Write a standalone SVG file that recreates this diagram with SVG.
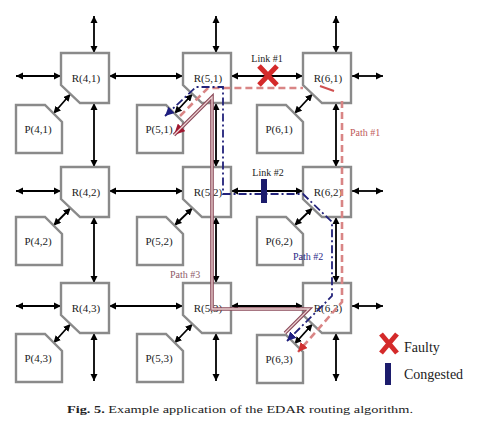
<svg xmlns="http://www.w3.org/2000/svg" width="500" height="439" viewBox="0 0 500 439">
<style>
.box{fill:#fff;stroke:#8a8a8a;stroke-width:2.4;stroke-linejoin:miter}
.lbl{font-family:"Liberation Serif","Times New Roman",serif;font-size:11px;fill:#222;text-anchor:middle}
.lnk line{stroke:#000;stroke-width:1.8;marker-start:url(#ah);marker-end:url(#ah)}
.p1{stroke:#d98585;stroke-width:2.6;fill:none;stroke-dasharray:7,4}
.p2{stroke:#22227a;stroke-width:1.8;fill:none;stroke-dasharray:8,3,2,3}
.p3o{stroke:#8b4a5a;stroke-width:3.6;fill:none}
.p3i{stroke:#ecd2d2;stroke-width:1.3;fill:none}
.cap{font-family:"Liberation Serif","Times New Roman",serif;font-size:10.5px;fill:#222}
</style>
<defs>
<marker id="ah" viewBox="0 0 10 10" refX="10" refY="5" markerWidth="4" markerHeight="4" orient="auto-start-reverse" markerUnits="strokeWidth"><path d="M0,0 L10,5 L0,10 Z" fill="#000"/></marker>
<marker id="ahb" viewBox="0 0 10 10" refX="10" refY="5" markerWidth="5" markerHeight="5" orient="auto-start-reverse" markerUnits="strokeWidth"><path d="M0,0 L10,5 L0,10 Z" fill="#1f1f80"/></marker>
<marker id="ahr" viewBox="0 0 10 10" refX="10" refY="5" markerWidth="3.6" markerHeight="3.6" orient="auto-start-reverse" markerUnits="strokeWidth"><path d="M0,0 L10,5 L0,10 Z" fill="#d03030"/></marker>
<marker id="ahd" viewBox="0 0 10 10" refX="10" refY="5" markerWidth="3" markerHeight="3" orient="auto-start-reverse" markerUnits="strokeWidth"><path d="M0,0 L10,5 L0,10 Z" fill="#a01830"/></marker>
<path id="rshape" d="M0,0 H48 V50 H19 L0,32 Z"/>
<path id="pshape" d="M0,0 H29 L46,17 V48 H0 Z"/>
</defs>
<rect width="500" height="439" fill="#fff"/>

<g id="connectors" class="lnk">
<line x1="94" y1="16" x2="94" y2="53"/><line x1="216" y1="16" x2="216" y2="53"/><line x1="336" y1="16" x2="336" y2="53"/>
<line x1="94" y1="103" x2="94" y2="167"/><line x1="216" y1="103" x2="216" y2="167"/><line x1="336" y1="103" x2="336" y2="167"/>
<line x1="94" y1="217" x2="94" y2="283"/><line x1="216" y1="217" x2="216" y2="283"/><line x1="336" y1="217" x2="336" y2="283"/>
<line x1="94" y1="333" x2="94" y2="381"/><line x1="216" y1="333" x2="216" y2="381"/><line x1="336" y1="333" x2="336" y2="381"/>
<line x1="16" y1="76" x2="61" y2="76"/><line x1="109" y1="76" x2="183" y2="76"/><line x1="231" y1="76" x2="303" y2="76"/><line x1="352" y1="76" x2="383" y2="76"/>
<line x1="16" y1="191" x2="61" y2="191"/><line x1="109" y1="191" x2="183" y2="191"/><line x1="231" y1="191" x2="303" y2="191"/><line x1="352" y1="191" x2="383" y2="191"/>
<line x1="16" y1="306" x2="61" y2="306"/><line x1="109" y1="306" x2="183" y2="306"/><line x1="231" y1="306" x2="303" y2="306"/><line x1="352" y1="306" x2="383" y2="306"/>
<line x1="70.5" y1="94" x2="53.5" y2="113.5"/><line x1="192.5" y1="94" x2="174.5" y2="113.5"/><line x1="312.5" y1="94" x2="294.5" y2="113.5"/>
<line x1="70.5" y1="208" x2="53.5" y2="225.5"/><line x1="192.5" y1="208" x2="174.5" y2="225.5"/><line x1="312.5" y1="208" x2="294.5" y2="225.5"/>
<line x1="70.5" y1="324" x2="53.5" y2="343"/><line x1="192.5" y1="324" x2="174.5" y2="343"/><line x1="312.5" y1="324" x2="294.5" y2="344"/>
</g>

<g id="R41"><use href="#rshape" x="61" y="53" class="box"/><text class="lbl" x="86" y="82">R(4,1)</text></g>
<g id="R51"><use href="#rshape" x="183" y="53" class="box"/><text class="lbl" x="208" y="82">R(5,1)</text></g>
<g id="R61"><use href="#rshape" x="303" y="53" class="box"/><text class="lbl" x="328" y="82">R(6,1)</text></g>
<g id="R42"><use href="#rshape" x="61" y="167" class="box"/><text class="lbl" x="86" y="196">R(4,2)</text></g>
<g id="R52"><use href="#rshape" x="183" y="167" class="box"/><text class="lbl" x="208" y="196">R(5,2)</text></g>
<g id="R62"><use href="#rshape" x="303" y="167" class="box"/><text class="lbl" x="328" y="196">R(6,2)</text></g>
<g id="R43"><use href="#rshape" x="61" y="283" class="box"/><text class="lbl" x="86" y="312">R(4,3)</text></g>
<g id="R53"><use href="#rshape" x="183" y="283" class="box"/><text class="lbl" x="208" y="312">R(5,3)</text></g>
<g id="R63"><use href="#rshape" x="303" y="283" class="box"/><text class="lbl" x="328" y="312">R(6,3)</text></g>

<g id="P41"><use href="#pshape" x="16" y="105" class="box"/><text class="lbl" x="38" y="133">P(4,1)</text></g>
<g id="P51"><use href="#pshape" x="137" y="105" class="box"/><text class="lbl" x="159" y="133">P(5,1)</text></g>
<g id="P61"><use href="#pshape" x="257" y="105" class="box"/><text class="lbl" x="279" y="133">P(6,1)</text></g>
<g id="P42"><use href="#pshape" x="16" y="217" class="box"/><text class="lbl" x="38" y="245">P(4,2)</text></g>
<g id="P52"><use href="#pshape" x="137" y="217" class="box"/><text class="lbl" x="159" y="245">P(5,2)</text></g>
<g id="P62"><use href="#pshape" x="257" y="217" class="box"/><text class="lbl" x="279" y="245">P(6,2)</text></g>
<g id="P43"><use href="#pshape" x="16" y="334" class="box"/><text class="lbl" x="38" y="362">P(4,3)</text></g>
<g id="P53"><use href="#pshape" x="137" y="334" class="box"/><text class="lbl" x="159" y="362">P(5,3)</text></g>
<g id="P63"><use href="#pshape" x="257" y="335" class="box"/><text class="lbl" x="279" y="363">P(6,3)</text></g>

<g id="paths">
<path class="p3o" d="M174,135 L212,97 V309 H309 L285,333" marker-start="url(#ahd)"/>
<path class="p3i" d="M174,135 L212,97 V309 H309 L285,333"/>
<path class="p1" d="M180,116 L208,88 H303"/>
<path d="M320,86 L334,91" stroke="#d05050" stroke-width="2"/>
<path class="p1" d="M342,101 V302 L298,352" marker-end="url(#ahr)"/>
<path class="p2" d="M165,116 L196,87 H223 V194 H303 L332,222 V296 L287,341" marker-start="url(#ahb)" marker-end="url(#ahb)"/>
<text x="350" y="136" font-family="Liberation Serif, serif" font-size="10" fill="#c05a5a">Path #1</text>
<text x="293" y="260" font-family="Liberation Serif, serif" font-size="10" fill="#2a2a88">Path #2</text>
<text x="170" y="278" font-family="Liberation Serif, serif" font-size="10" fill="#8e5a68">Path #3</text>
</g>

<g id="link1">
<text x="267" y="62" font-family="Liberation Serif, serif" font-size="10" fill="#222" text-anchor="middle">Link #1</text>
<path d="M259,66 L277,85 M277,66 L259,85" stroke="#d42a2a" stroke-width="5"/>
</g>
<g id="link2">
<text x="268" y="176" font-family="Liberation Serif, serif" font-size="10" fill="#222" text-anchor="middle">Link #2</text>
<rect x="261" y="179" width="6" height="24" fill="#1c1c6c"/>
</g>

<g id="legend">
<path d="M381,334 L397,353 M397,334 L381,353" stroke="#d42a2a" stroke-width="5"/>
<text x="404" y="352" font-family="Liberation Serif, serif" font-size="14" fill="#222">Faulty</text>
<rect x="385" y="363" width="6" height="22" fill="#1c1c6c"/>
<text x="404" y="379" font-family="Liberation Serif, serif" font-size="14" fill="#222">Congested</text>
</g>

<text class="cap" x="67" y="413" textLength="346" lengthAdjust="spacingAndGlyphs"><tspan font-weight="bold">Fig. 5.</tspan> Example application of the EDAR routing algorithm.</text>
</svg>
